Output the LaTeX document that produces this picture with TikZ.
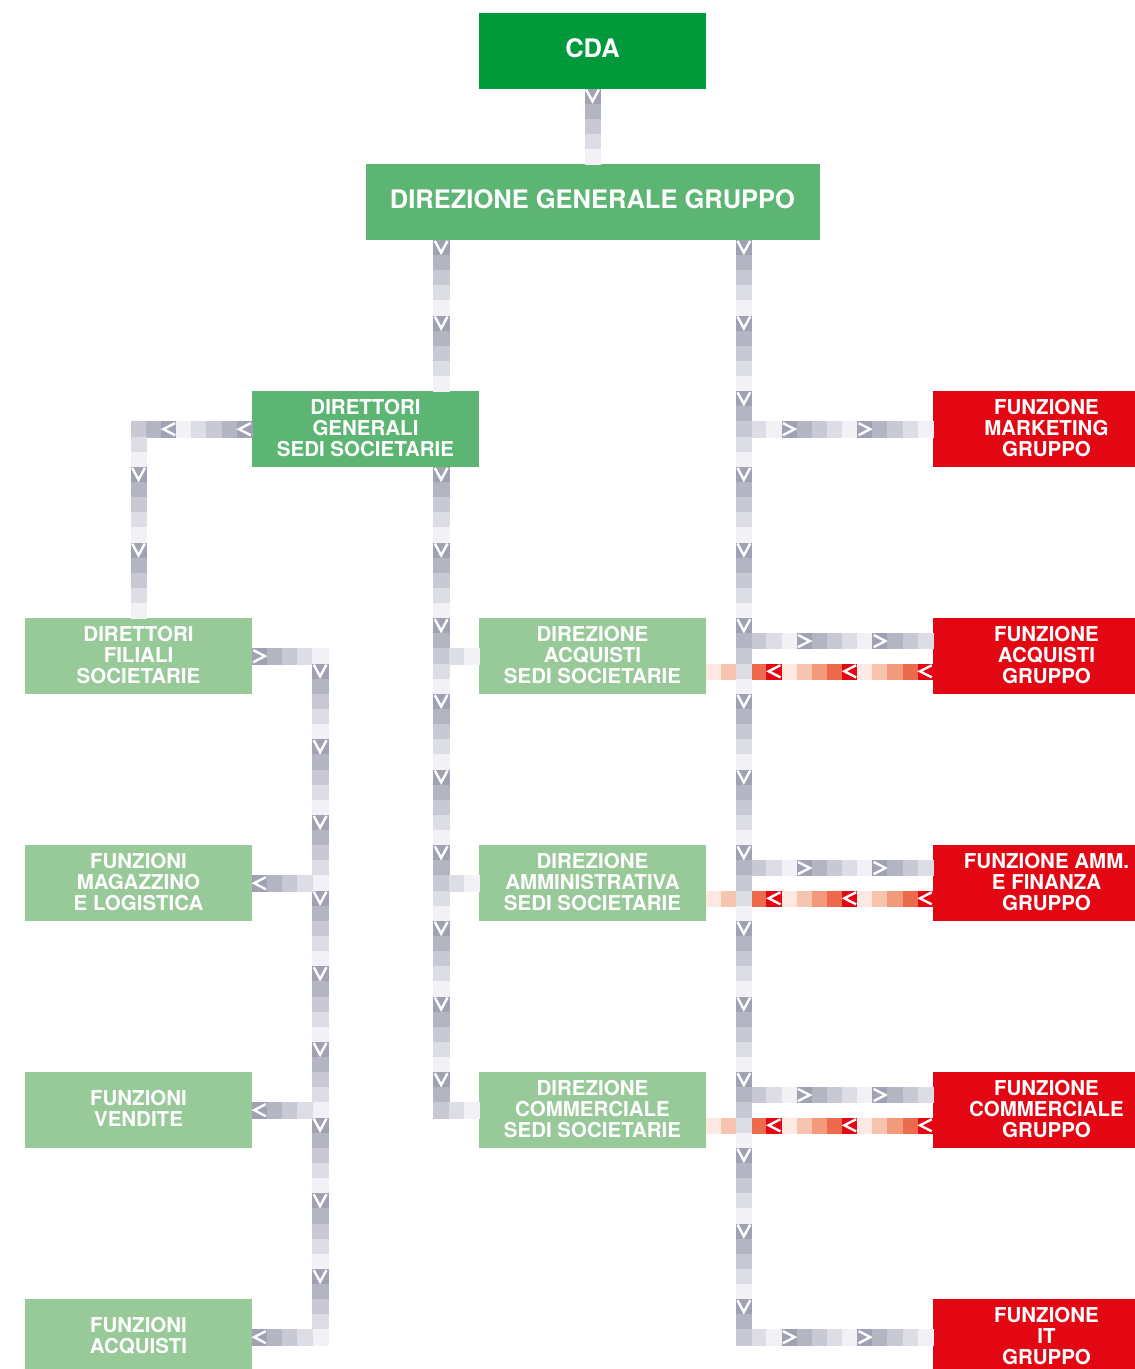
\documentclass[tikz,border=0pt]{standalone}
\usepackage{fontspec}
\setmainfont{TeX Gyre Heros}
\definecolor{g0}{HTML}{A0A1B3}
\definecolor{g1}{HTML}{B4B5C3}
\definecolor{g2}{HTML}{C8C9D4}
\definecolor{g3}{HTML}{DDDDE5}
\definecolor{g4}{HTML}{F2F2F6}
\definecolor{r0}{HTML}{E30613}
\definecolor{r1}{HTML}{EE6A4D}
\definecolor{r2}{HTML}{F39A7C}
\definecolor{r3}{HTML}{F8C3AF}
\definecolor{r4}{HTML}{FDE9E1}
\definecolor{cdagreen}{HTML}{009A3D}
\definecolor{midgreen}{HTML}{5DB574}
\definecolor{lightgreen}{HTML}{98C999}
\definecolor{funred}{HTML}{E30613}
\tikzset{
  box/.style={minimum width=227pt, minimum height=75.67pt, inner sep=0pt},
  boxtext/.style={text=white, align=center, inner sep=0pt, yshift=1.5pt,
    font=\fontsize{20.5}{21}\selectfont\bfseries},
  bigtext/.style={boxtext, yshift=1pt, font=\fontsize{25.5}{27}\selectfont\bfseries},
  chev/.style={draw=white, line width=2.4pt, line join=miter, line cap=butt}
}
% #1 name, #2 position, #3 options of box, #4 text style, #5 text
\newcommand\bx[5]{%
  \node[box, #3] (#1) at #2 {};%
  \node[#4] (#1-t) at (#1.center) {#5};%
}
% #1 x, #2 y, #3 index, #4 direction (1 down, 2 right, 3 left), #5 palette
\newcommand\cell[5]{%
  \pgfmathtruncatemacro\cshade{mod(#3,5)}%
  \path[fill=#5\cshade, draw=#5\cshade, line width=0.3pt] (#1,#2) rectangle ++(1,1);%
  \ifnum\cshade=0
    \ifcase#4\or
      \draw[chev] (#1+0.08,#2+0.06) -- (#1+0.5,#2+0.84) -- (#1+0.92,#2+0.06);%
    \or
      \draw[chev] (#1+0.08,#2+0.1) -- (#1+0.86,#2+0.5) -- (#1+0.08,#2+0.9);%
    \or
      \draw[chev] (#1+0.92,#2+0.1) -- (#1+0.14,#2+0.5) -- (#1+0.92,#2+0.9);%
    \fi
  \fi
}
\begin{document}
\begin{tikzpicture}[x=15.1333pt, y=-15.1333pt]
\clip (0,0) rectangle (75,90.4633);
\fill[white] (0,0) rectangle (75,90.4633);
\begin{scope}[shift={(1.652,0.859)}]
% ---------- boxes ----------
\bx{cda}{(37.5,2.5)}{fill=cdagreen}{bigtext}{CDA}
\bx{dgg}{(37.5,12.5)}{fill=midgreen, minimum width=454pt}{bigtext}{DIREZIONE GENERALE GRUPPO}
\bx{dgss}{(22.5,27.5)}{fill=midgreen}{boxtext}{DIRETTORI\\GENERALI\\SEDI SOCIETARIE}
\bx{dfs}{(7.5,42.5)}{fill=lightgreen}{boxtext}{DIRETTORI\\FILIALI\\SOCIETARIE}
\bx{fmag}{(7.5,57.5)}{fill=lightgreen}{boxtext}{FUNZIONI\\MAGAZZINO\\E LOGISTICA}
\bx{fven}{(7.5,72.5)}{fill=lightgreen}{boxtext}{FUNZIONI\\VENDITE}
\bx{facq}{(7.5,87.5)}{fill=lightgreen}{boxtext}{FUNZIONI\\ACQUISTI}
\bx{dacq}{(37.5,42.5)}{fill=lightgreen}{boxtext}{DIREZIONE\\ACQUISTI\\SEDI SOCIETARIE}
\bx{damm}{(37.5,57.5)}{fill=lightgreen}{boxtext}{DIREZIONE\\AMMINISTRATIVA\\SEDI SOCIETARIE}
\bx{dcom}{(37.5,72.5)}{fill=lightgreen}{boxtext}{DIREZIONE\\COMMERCIALE\\SEDI SOCIETARIE}
\bx{fmkt}{(67.5,27.5)}{fill=funred}{boxtext}{FUNZIONE\\MARKETING\\GRUPPO}
\bx{facg}{(67.5,42.5)}{fill=funred}{boxtext}{FUNZIONE\\ACQUISTI\\GRUPPO}
\bx{fammg}{(67.5,57.5)}{fill=funred}{boxtext}{FUNZIONE AMM.\\E FINANZA\\GRUPPO}
\bx{fcomg}{(67.5,72.5)}{fill=funred}{boxtext}{FUNZIONE\\COMMERCIALE\\GRUPPO}
\bx{fitg}{(67.5,87.5)}{fill=funred}{boxtext}{FUNZIONE\\IT\\GRUPPO}
% ---------- connectors ----------
% CDA -> DGG
\foreach \y in {5,...,9} {\cell{37}{\y}{\y-5}{1}{g}}
% DGG -> DGSS
\foreach \y in {15,...,24} {\cell{27}{\y}{\y-15}{1}{g}}
% DGSS -> left -> Direttori filiali
\foreach \x in {7,...,14} {\cell{\x}{27}{14-\x}{3}{g}}
\foreach \y in {28,...,39} {\cell{7}{\y}{\y-20}{1}{g}}
% Direttori filiali -> left trunk
\foreach \x in {15,...,19} {\cell{\x}{42}{\x-15}{2}{g}}
\foreach \y in {43,...,87} {\cell{19}{\y}{\y-38}{1}{g}}
\foreach \r in {57,72,87} {\foreach \x in {15,...,18} {\cell{\x}{\r}{\x-15}{3}{g}}}
% DGSS -> centre trunk
\foreach \y in {30,...,72} {\cell{27}{\y}{\y-30}{1}{g}}
\foreach \r in {42,57,72} {\foreach \x in {28,29} {\cell{\x}{\r}{\r-30+\x-27}{2}{g}}}
% red returns
\foreach \r in {43,58,73} {\foreach \x in {45,...,59} {\cell{\x}{\r}{59-\x}{3}{r}}}
% right trunk
\foreach \r in {27,41,56,71,87} {\foreach \x in {48,...,59} {\cell{\x}{\r}{\r-15+\x-47}{2}{g}}}
\foreach \y in {15,...,87} {\cell{47}{\y}{\y-15}{1}{g}}
\end{scope}
\end{tikzpicture}
\end{document}
